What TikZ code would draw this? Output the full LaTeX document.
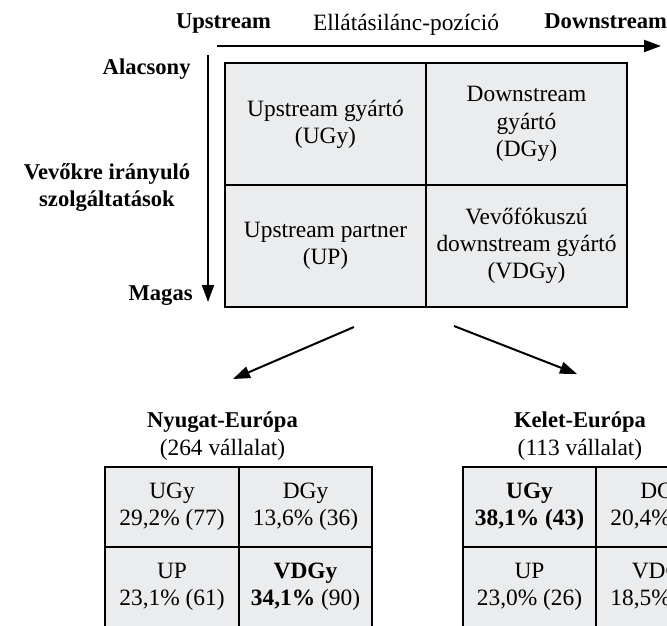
\documentclass[tikz,border=0pt]{standalone}
\usepackage{fontspec}
\setmainfont{Liberation Serif}
\usetikzlibrary{arrows.meta}
\definecolor{cellgray}{RGB}{235,236,238}

\begin{document}
\begin{tikzpicture}[x=0.5pt,y=-0.5pt,
    txt/.style={inner sep=0pt,font=\fontsize{11.7}{13.8}\selectfont},
    axlbl/.style={inner sep=0pt,font=\fontsize{11.3}{13.8}\selectfont\bfseries},
    axis/.style={line width=1pt,-{Triangle[length=8.5pt,width=6pt]}},
    cell/.style={draw=black,line width=0.85pt,fill=cellgray,align=center,inner sep=0pt,
        font=\fontsize{11.7}{13.6}\selectfont},
    bigcell/.style={cell,minimum width=100.5pt,minimum height=61pt},
    smallcell/.style={cell,minimum width=66.75pt,minimum height=39.75pt}]
        \clip (0,0) rectangle (667,625);

        % axes
        \node[axlbl,anchor=base] (lblup) at (223.5,29) {Upstream};
        \node[txt,anchor=base] (lblpos) at (406,31) {Ellátásilánc-pozíció};
        \node[axlbl,anchor=base west] (lbldown) at (544,29) {Downstream};
        \coordinate (hs) at (217,46);
        \coordinate (he) at (661,46);
        \draw[axis] (hs) -- (he);

        \node[axlbl,anchor=base east] (lbllow) at (191,75) {Alacsony};
        \node[axlbl,anchor=base] (lblserv) at (107,180) {Vevőkre irányuló};
        \node[axlbl,anchor=base] (lblserv2) at (107,207) {szolgáltatások};
        \node[axlbl,anchor=base east] (lblhigh) at (193,300) {Magas};
        \coordinate (vs) at (208,55);
        \coordinate (ve) at (208,302);
        \draw[axis] (vs) -- (ve);

        % typology
        \node[bigcell] (ugy) at (325.5,124) {Upstream gyártó\\(UGy)};
        \node[bigcell] (dgy) at (526.5,124) {Downstream\\gyártó\\(DGy)};
        \node[bigcell] (up) at (325.5,246) {Upstream partner\\(UP)};
        \node[bigcell] (vdgy) at (526.5,246) {Vevőfókuszú\\downstream gyártó\\(VDGy)};

        \coordinate (al) at (354,327);
        \coordinate (alend) at (233,379);
        \coordinate (ar) at (454,326);
        \coordinate (arend) at (577,374);
        \draw[axis] (al) -- (alend);
        \draw[axis] (ar) -- (arend);

        % Nyugat-Europa
        \node[axlbl,anchor=base] (west) at (222.5,427) {Nyugat-Európa};
        \node[txt,anchor=base] (westn) at (222.5,455) {(264 vállalat)};
        \node[smallcell] (wugy) at (172,506.75) {UGy\\29,2\% (77)};
        \node[smallcell] (wdgy) at (305.5,506.75) {DGy\\13,6\% (36)};
        \node[smallcell] (wup) at (172,587) {UP\\23,1\% (61)};
        \node[smallcell] (wvdgy) at (305.5,587) {\textbf{VDGy}\\\textbf{34,1\%} (90)};

        % Kelet-Europa
        \node[axlbl,anchor=base] (east) at (580,427) {Kelet-Európa};
        \node[txt,anchor=base] (eastn) at (580,455) {(113 vállalat)};
        \node[smallcell] (eugy) at (529.5,506.75) {\textbf{UGy}\\\textbf{38,1\% (43)}};
        \node[smallcell] (edgy) at (663,506.75) {DGy\\20,4\% (23)};
        \node[smallcell] (eup) at (529.5,587) {UP\\23,0\% (26)};
        \node[smallcell] (evdgy) at (663,587) {VDGy\\18,5\% (21)};

\end{tikzpicture}
\end{document}
